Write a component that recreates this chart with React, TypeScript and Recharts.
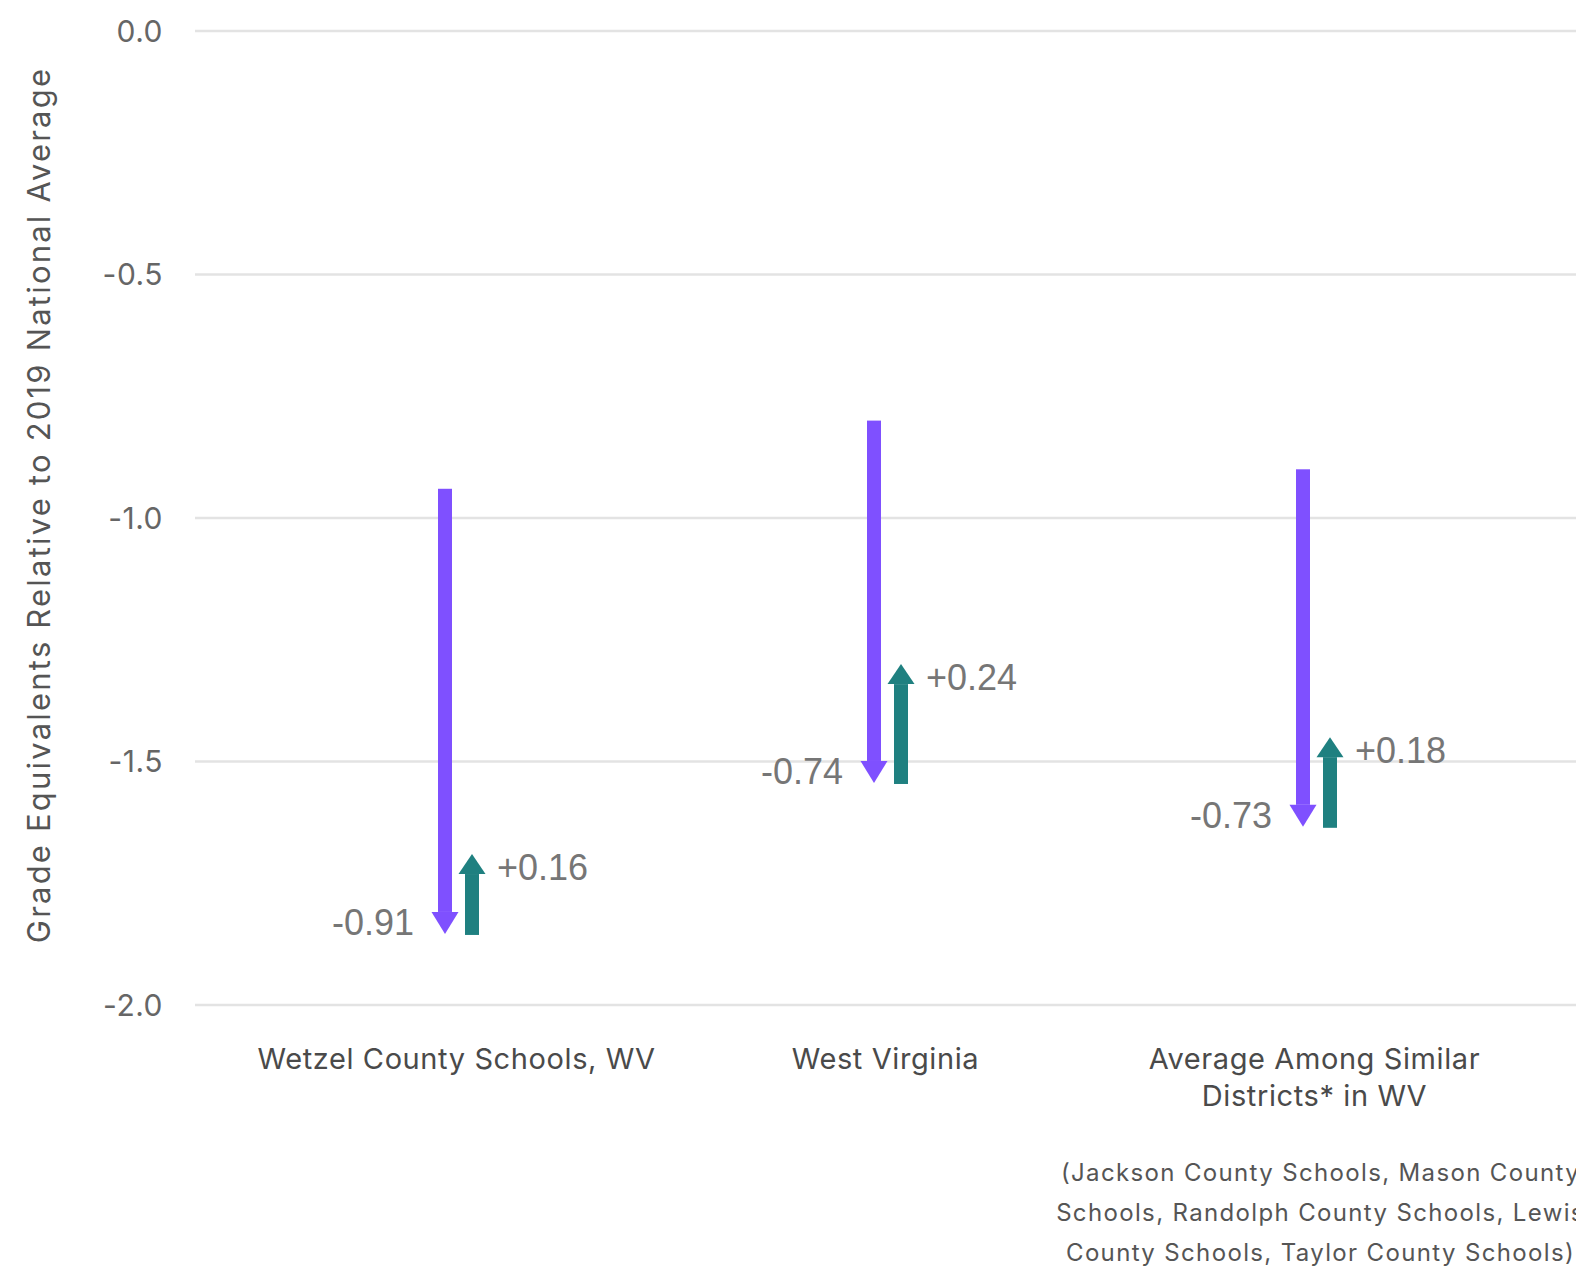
import React from 'react';
import { BarChart, Bar, XAxis, YAxis, CartesianGrid } from 'recharts';

const categories = [
  'Wetzel County Schools, WV',
  'West Virginia',
  'Average Among Similar\nDistricts* in WV',
];
const startValues = [-0.94, -0.8, -0.9];
const declines = [-0.91, -0.74, -0.73];
const recoveries = [0.16, 0.24, 0.18];
const yTicks = [0, -0.5, -1, -1.5, -2];
const footnoteLines = [
  '(Jackson County Schools, Mason County',
  'Schools, Randolph County Schools, Lewis',
  'County Schools, Taylor County Schools)',
];
const yAxisTitle = 'Grade Equivalents Relative to 2019 National Average';

const PURPLE = '#7f50ff';
const TEAL = '#1f8080';
const AXIS_FONT = 'Inter, sans-serif';
const VALUE_FONT = '"Liberation Sans", Arial, sans-serif';

const data = categories.map((name, i) => {
  const low = +(startValues[i] + declines[i]).toFixed(2);
  const high = +(low + recoveries[i]).toFixed(2);
  return {
    name,
    drop: [startValues[i], low],
    rise: [low, high],
    dropLabel: declines[i].toFixed(2),
    riseLabel: '+' + recoveries[i].toFixed(2),
  };
});

const Arrow = (props: any) => {
  const { x, y, width, height, payload, direction } = props;
  if (x == null || y == null) return null;
  const top = height < 0 ? y + height : y;
  const bottom = top + Math.abs(height);
  const cx = x + width / 2;
  const headW = 27;
  const headH = 20;
  if (direction === 'down') {
    return (
      <g>
        <rect x={x} y={top} width={width} height={Math.max(0, bottom - headH - top)} fill={PURPLE} />
        <polygon
          points={`${cx - headW / 2},${bottom - headH} ${cx + headW / 2},${bottom - headH} ${cx},${bottom + 2}`}
          fill={PURPLE}
        />
        <text x={cx - 31} y={bottom + 3} textAnchor="end" fontSize={36} fill="#767676" fontFamily={VALUE_FONT}>
          {payload.dropLabel}
        </text>
      </g>
    );
  }
  return (
    <g>
      <polygon
        points={`${cx},${top} ${cx - headW / 2},${top + headH} ${cx + headW / 2},${top + headH}`}
        fill={TEAL}
      />
      <rect x={x} y={top + headH} width={width} height={Math.max(0, bottom - top - headH + 3)} fill={TEAL} />
      <text x={cx + 25} y={top + 26} textAnchor="start" fontSize={36} fill="#767676" fontFamily={VALUE_FONT}>
        {payload.riseLabel}
      </text>
    </g>
  );
};

const XTick = (props: any) => {
  const { x, y, payload } = props;
  const lines = String(payload.value).split('\n');
  const isLast = payload.value === categories[categories.length - 1];
  return (
    <g>
      <text textAnchor="middle" fontSize={29} fill="#4a4a4a" fontFamily={AXIS_FONT} letterSpacing={0.6}>
        {lines.map((l, i) => (
          <tspan key={i} x={x - 2} y={y + 64 + i * 37}>
            {l}
          </tspan>
        ))}
      </text>
      {isLast && (
        <text textAnchor="middle" fontSize={24} fill="#555" fontFamily={AXIS_FONT} letterSpacing={1.35}>
          {footnoteLines.map((l, i) => (
            <tspan key={i} x={x + 4} y={y + 176 + i * 40}>
              {l}
            </tspan>
          ))}
        </text>
      )}
    </g>
  );
};

const YTitle = () => (
  <text
    x={38}
    y={505}
    transform="rotate(-90 38 505)"
    textAnchor="middle"
    dominantBaseline="central"
    fontSize={31}
    fill="#555"
    fontFamily={AXIS_FONT}
    letterSpacing={2.2}
  >
    {yAxisTitle}
  </text>
);

export default function App() {
  return (
    <div
      style={{
        position: 'absolute',
        left: 0,
        top: 0,
        width: 1576,
        height: 1270,
        overflow: 'hidden',
        background: '#fff',
      }}
    >
      <BarChart
        width={1700}
        height={1270}
        data={data}
        margin={{ top: 31, right: 50, left: 0, bottom: 235 }}
        barSize={14}
        barGap={13}
      >
        <CartesianGrid vertical={false} stroke="#e3e3e3" strokeWidth={2.5} />
        <XAxis
          dataKey="name"
          height={30}
          axisLine={false}
          tickLine={false}
          tickSize={0}
          tickMargin={0}
          interval={0}
          padding={{ left: 49, right: 119 }}
          tick={<XTick />}
        />
        <YAxis
          type="number"
          domain={[-2, 0]}
          ticks={yTicks}
          width={195}
          axisLine={false}
          tickLine={false}
          tickSize={0}
          tickMargin={32}
          tickFormatter={(v: number) => v.toFixed(1)}
          tick={{ fill: '#666', fontSize: 30, fontFamily: AXIS_FONT, letterSpacing: 0.5 }}
          label={<YTitle />}
          allowDataOverflow
        />
        <Bar dataKey="drop" isAnimationActive={false} shape={(p: any) => <Arrow {...p} direction="down" />} />
        <Bar dataKey="rise" isAnimationActive={false} shape={(p: any) => <Arrow {...p} direction="up" />} />
      </BarChart>
    </div>
  );
}
